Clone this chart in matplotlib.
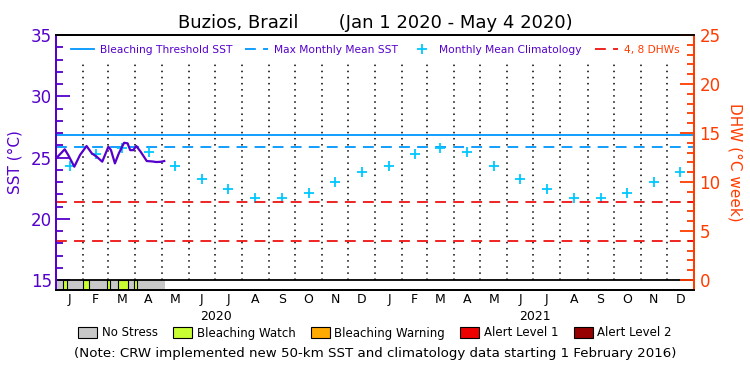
import numpy as np
import pandas as pd
import matplotlib
matplotlib.use("Agg")
import matplotlib.pyplot as plt
from matplotlib.lines import Line2D
from matplotlib.patches import Patch

# SST trace, day of 2020 (0 = Jan 1) and value in degC
sst_day = [0, 1, 10, 14, 21, 27.5, 35, 41, 46.5, 53, 60, 63, 67.5, 72, 78, 82, 85,
           88.5, 92, 97, 104, 110, 115, 120, 124]
sst_val = [24.95, 25.0, 25.67, 25.2, 24.25, 25.2, 25.94, 25.34, 25.07, 24.66, 25.88,
           25.6, 24.52, 25.34, 26.2, 26.16, 25.6, 25.6, 25.94, 25.47, 24.71, 24.68,
           24.63, 24.65, 24.71]

# monthly mean climatology (Jan..Dec), repeated for 2020 and 2021
clim = [24.33, 25.29, 25.8, 25.42, 24.33, 23.24, 22.4, 21.67, 21.67, 22.13, 23.0, 23.8]
mmm = 25.82
threshold = 26.82
dhw_levels = [4, 8]

# stress level bar: no stress until May 4, bleaching watch in these spans
stress_end = 125
watch_start = [8.4, 30.6, 58.1, 71.4, 89.7]
watch_end = [13.0, 37.5, 62.2, 82.8, 93.1]

month_letters = ['J', 'F', 'M', 'A', 'M', 'J', 'J', 'A', 'S', 'O', 'N', 'D']
years = ['2020', '2021']

purple = '#5500cc'
orange = '#ff3c00'
red = '#ee1111'
cyan = '#00c8ff'
blue = '#0096ff'

t0 = pd.Timestamp('2020-01-01')
starts = pd.date_range('2020-01-01', '2022-01-01', freq='MS')
mstart = np.array([(d - t0).days for d in starts])
mmid = (mstart[:-1] + mstart[1:]) / 2.0
x_end = mstart[-1]

fig = plt.figure(figsize=(7.5, 3.75), dpi=100)
ax = fig.add_axes([56/750, 85/375, 638/750, 255/375])
ax2 = ax.twinx()

ylo = 15 - 10/12.25
ax.set_xlim(0, x_end)
ax.set_ylim(ylo, 35)
ax2.set_ylim(-10/9.8, 25)

# month grid
ax.vlines(mstart[1:-1], 15, 32.7, colors='black', linestyles=(0, (1, 3)), linewidth=1.1)

ax.axhline(threshold, color=blue, linewidth=1.3)
ax.axhline(mmm, color=blue, linewidth=1.3, dashes=(6, 4))
for lv in dhw_levels:
    ax2.axhline(lv, color=red, linewidth=1.3, dashes=(6, 4))
ax.axhline(15, color='black', linewidth=1.3)

ax.plot(mmid, clim * 2, linestyle='none', marker='+', markersize=7.5,
        markeredgewidth=1.3, color=cyan)
ax.plot(sst_day, sst_val, color=purple, linewidth=1.6)

# stress bar
ax.broken_barh([(0, stress_end)], (ylo, 15 - ylo), facecolors='#c8c8c8')
ax.broken_barh([(s, e - s) for s, e in zip(watch_start, watch_end)], (ylo, 15 - ylo),
               facecolors='#c8ff32', edgecolors='black', linewidth=0.8)

# spines
for a in (ax, ax2):
    a.spines['top'].set_color('black')
    a.spines['bottom'].set_color('black')
    a.spines['left'].set_color(purple)
    a.spines['right'].set_color(orange)
    for s in a.spines.values():
        s.set_linewidth(1.3)

ax.set_yticks(np.arange(15, 36, 5))
ax.set_yticks(np.arange(15, 36, 1), minor=True)
ax.tick_params(axis='y', which='major', direction='in', length=10, width=1.3,
               colors=purple, labelsize=12, pad=3)
ax.tick_params(axis='y', which='minor', direction='in', length=5, width=1.3, colors=purple)
ax.set_ylabel('SST (°C)', color=purple, fontsize=11, labelpad=6)

ax2.set_yticks(np.arange(0, 26, 5))
ax2.set_yticks(np.arange(0, 26, 1), minor=True)
ax2.tick_params(axis='y', which='major', direction='in', length=10, width=1.3,
                colors=orange, labelsize=12, pad=4)
ax2.tick_params(axis='y', which='minor', direction='in', length=5, width=1.3, colors=orange)
ax2.set_ylabel('DHW (°C week)', color=orange, fontsize=11, rotation=270, labelpad=16)

ax.set_xticks(mmid)
ax.set_xticklabels(month_letters * 2, fontsize=9)
ax.tick_params(axis='x', length=0, pad=2)
for i, yr in enumerate(years):
    ax.text((mstart[12 * i] + mstart[12 * i + 12]) / 2, -0.102, yr, transform=ax.get_xaxis_transform(),
            ha='center', va='center', fontsize=9)

ax.set_title('Buzios, Brazil       (Jan 1 2020 - May 4 2020)', fontsize=13, pad=5)

handles = [Line2D([], [], color=blue, linewidth=1.3),
           Line2D([], [], color=blue, linewidth=1.3, dashes=(6, 4)),
           Line2D([], [], color=cyan, linestyle='none', marker='+', markersize=7, markeredgewidth=1.3),
           Line2D([], [], color=red, linewidth=1.3, dashes=(6, 4))]
labels = ['Bleaching Threshold SST', 'Max Monthly Mean SST', 'Monthly Mean Climatology', '4, 8 DHWs']
leg = ax.legend(handles, labels, ncol=4, loc='upper center', bbox_to_anchor=(0.5, 1.0),
                frameon=False, fontsize=7.7, handlelength=2.2, handletextpad=0.5,
                columnspacing=1.2)
for txt, c in zip(leg.get_texts(), [purple, purple, purple, orange]):
    txt.set_color(c)

stress_handles = [Patch(facecolor=c, edgecolor='black', linewidth=0.8)
                  for c in ['#c8c8c8', '#c8ff32', '#ffaa00', '#ee0000', '#960000']]
stress_labels = ['No Stress', 'Bleaching Watch', 'Bleaching Warning', 'Alert Level 1', 'Alert Level 2']
fig.legend(stress_handles, stress_labels, ncol=5, loc='center', bbox_to_anchor=(0.5, 42/375),
           frameon=False, fontsize=8.5, handlelength=1.6, handleheight=1.1, handletextpad=0.4,
           columnspacing=1.3)

fig.text(0.5, 21/375, '(Note: CRW implemented new 50-km SST and climatology data starting 1 February 2016)',
         ha='center', va='center', fontsize=9.6)

fig.savefig('out.png', dpi=100)
